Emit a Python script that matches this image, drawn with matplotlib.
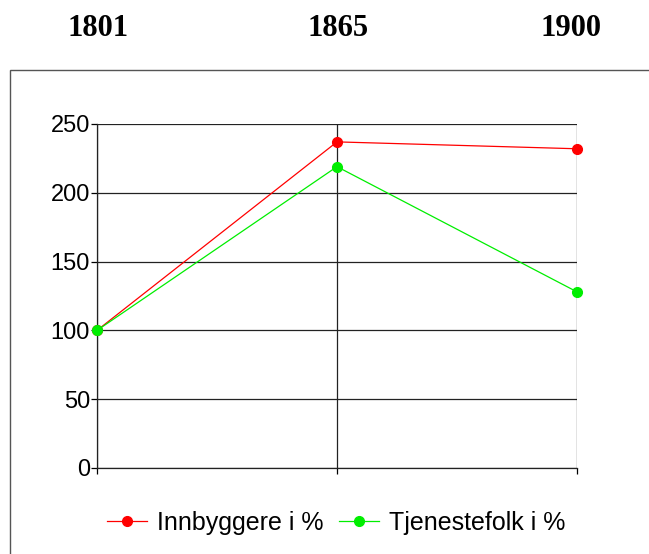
import matplotlib.pyplot as plt
from matplotlib.patches import Rectangle

years = ["1801", "1865", "1900"]
innbyggere = [100, 237, 232]
tjenestefolk = [100, 219, 128]
y_ticks = [0, 50, 100, 150, 200, 250]

fig = plt.figure(figsize=(6.49, 5.54), dpi=100)

# ramme rundt diagrammet
fig.patches.append(Rectangle((10 / 649, -0.1), 1.0, 1 - 70 / 554 + 0.1,
                             transform=fig.transFigure, fill=False,
                             edgecolor="#555555", linewidth=1.0))

# årstall over diagrammet
for xpos, year in zip([98, 338, 571], years):
    fig.text(xpos / 649, 1 - 28 / 554, year, ha="center", va="center",
             family="Liberation Serif", fontweight="bold", fontsize=22)

ax = fig.add_axes([97 / 649, 86 / 554, 480 / 649, 344 / 554])
x = range(len(years))
ax.plot(x, innbyggere, color="#ff0000", marker="o", markersize=7,
        linewidth=0.9, label="Innbyggere i %", zorder=3, clip_on=False)
ax.plot(x, tjenestefolk, color="#00ee00", marker="o", markersize=7,
        linewidth=0.9, label="Tjenestefolk i %", zorder=4, clip_on=False)

ax.set_xlim(0, 2)
ax.set_ylim(0, 250)
ax.set_yticks(y_ticks)
ax.set_xticks(list(x))
ax.set_xticklabels([])
ax.grid(True, color="#222222", linewidth=0.9)
ax.set_axisbelow(True)
for side in ["top", "right"]:
    ax.spines[side].set_visible(False)
for side in ["left", "bottom"]:
    ax.spines[side].set_color("#222222")
    ax.spines[side].set_linewidth(0.9)
ax.tick_params(axis="y", length=4, width=0.9, pad=1, labelsize=17)
ax.tick_params(axis="x", length=4, width=0.9)
for lbl in ax.get_yticklabels():
    lbl.set_family("Liberation Sans")

fig.legend(loc="center", bbox_to_anchor=(336 / 649, 1 - 523 / 554), ncol=2,
           frameon=False, handlelength=1.6, handletextpad=0.4, columnspacing=0.6,
           prop={"family": "Liberation Sans", "size": 18})

fig.savefig("out.png", dpi=100)
